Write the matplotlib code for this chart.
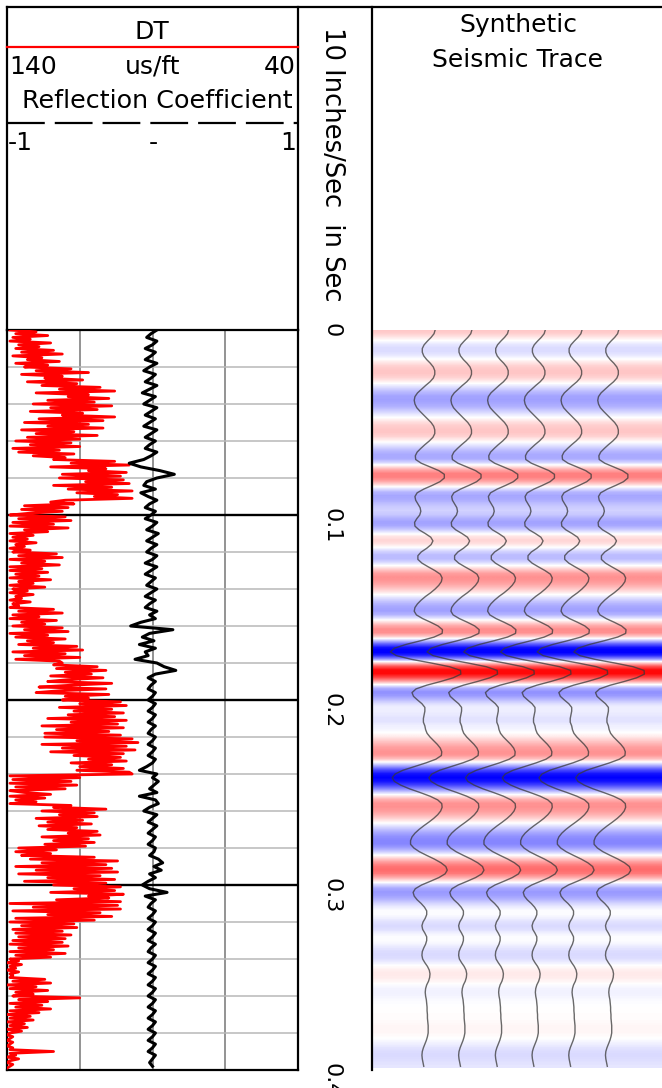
import numpy as np
import matplotlib
matplotlib.use("Agg")
import matplotlib.pyplot as plt
from matplotlib.lines import Line2D

W, H = 662, 1088

# two-way time in seconds
time_s = np.arange(200) * 0.002      # 2 ms samples (trace, reflection coef.)
time_dt = np.arange(400) * 0.001     # 1 ms samples (sonic)

# sonic log (us/ft), 10 samples per row = 10 ms
dt_us_ft = [
    139, 130, 137, 126, 138, 132, 139, 125, 136, 129,
    137, 124, 135, 121, 138, 128, 133, 122, 137, 126,
    134, 118, 130, 112, 135, 121, 127, 114, 133, 116,
    128, 108, 122, 103, 130, 112, 119, 105, 126, 110,
    131, 104, 125, 109, 132, 114, 121, 103, 129, 107,
    134, 112, 126, 107, 135, 117, 130, 109, 133, 115,
    137, 118, 132, 115, 138, 122, 136, 117, 131, 120,
    124, 103, 118, 98, 125, 106, 112, 99, 121, 101,
    122, 100, 113, 98, 124, 104, 119, 97, 116, 102,
    110, 97, 120, 125, 117, 134, 119, 135, 121, 132,
    139, 120, 136, 118, 138, 124, 139, 119, 134, 126,
    139, 131, 138, 133, 139, 130, 137, 134, 139, 132,
    138, 123, 136, 121, 139, 127, 135, 122, 139, 128,
    139, 126, 137, 129, 139, 125, 136, 131, 139, 127,
    138, 133, 139, 131, 137, 135, 139, 132, 138, 136,
    139, 124, 136, 121, 138, 129, 139, 123, 135, 127,
    138, 121, 134, 119, 139, 126, 137, 120, 133, 124,
    136, 116, 131, 114, 138, 120, 134, 115, 137, 122,
    121, 124, 109, 123, 106, 120, 111, 125, 107, 119,
    126, 104, 118, 129, 106, 122, 130, 105, 120, 112,
    121, 101, 115, 99, 122, 104, 117, 100, 119, 103,
    126, 99, 118, 102, 128, 100, 123, 105, 127, 101,
    127, 97, 116, 95, 128, 99, 121, 96, 125, 100,
    117, 101, 112, 99, 118, 104, 115, 100, 116, 98,
    97, 139, 115, 138, 118, 139, 116, 137, 120, 139,
    134, 125, 139, 127, 137, 130, 139, 118, 124, 106,
    128, 110, 122, 109, 130, 114, 126, 111, 129, 116,
    126, 109, 119, 108, 128, 112, 124, 110, 127, 113,
    136, 123, 137, 125, 135, 110, 132, 102, 128, 106,
    137, 104, 130, 102, 136, 108, 126, 103, 134, 106,
    124, 101, 117, 103, 125, 100, 112, 105, 123, 101,
    139, 102, 131, 101, 138, 108, 126, 104, 137, 110,
    139, 117, 135, 116, 138, 121, 137, 118, 136, 120,
    138, 121, 139, 119, 136, 124, 139, 120, 137, 125,
    139, 136, 140, 135, 139, 137, 140, 136, 139, 138,
    139, 127, 138, 125, 140, 130, 139, 126, 137, 131,
    138, 115, 136, 126, 139, 128, 137, 125, 139, 129,
    140, 132, 139, 131, 140, 134, 139, 133, 140, 135,
    139, 140, 138, 139, 140, 138, 139, 140, 138, 139,
    124, 139, 137, 140, 136, 139, 140, 138, 139, 140,
]

# reflection coefficient (black curve), 10 samples per row = 20 ms
refl_coef = [
    0.03, -0.01, -0.04, 0.03, 0.00, -0.05, 0.02, -0.01, -0.05, 0.03,
    -0.02, -0.06, 0.02, -0.01, -0.05, 0.03, -0.02, -0.07, 0.02, -0.02,
    -0.06, 0.03, -0.01, -0.05, 0.02, -0.02, -0.06, 0.03, -0.01, -0.05,
    0.02, -0.02, -0.05, 0.03, -0.01, -0.06, -0.16, -0.08, 0.05, 0.15,
    0.03, -0.04, -0.06, 0.02, -0.08, -0.03, 0.03, -0.02, -0.05, 0.02,
    -0.01, -0.05, 0.03, 0.00, -0.04, 0.04, 0.00, -0.04, 0.03, -0.01,
    -0.04, 0.03, 0.00, -0.05, 0.03, -0.01, -0.05, 0.02, -0.01, -0.04,
    0.03, -0.01, -0.05, 0.02, -0.02, -0.05, 0.03, -0.02, 0.02, -0.08,
    -0.15, 0.14, -0.02, -0.07, 0.01, -0.09, 0.02, -0.05, -0.03, -0.12,
    0.03, 0.08, 0.16, 0.02, -0.03, 0.02, -0.01, -0.03, 0.02, 0.00,
    -0.03, 0.02, 0.00, -0.03, 0.02, 0.00, -0.03, 0.02, -0.01, -0.03,
    0.02, 0.00, -0.03, 0.02, 0.00, -0.03, 0.02, 0.00, -0.04, -0.09,
    0.03, 0.00, 0.04, 0.01, -0.02, 0.03, -0.09, 0.02, 0.04, -0.02,
    -0.06, 0.03, 0.00, -0.03, 0.03, 0.00, -0.03, 0.02, 0.00, -0.03,
    0.02, 0.01, -0.02, 0.04, 0.07, 0.01, 0.06, -0.02, 0.02, -0.03,
    -0.07, -0.02, 0.10, -0.05, 0.02, -0.01, -0.03, 0.02, 0.00, -0.03,
    0.02, 0.00, -0.03, 0.02, 0.00, -0.03, 0.02, -0.01, -0.03, 0.02,
    0.00, -0.03, 0.02, 0.00, -0.03, 0.02, 0.00, -0.03, 0.02, 0.00,
    -0.03, 0.02, 0.00, -0.03, 0.02, 0.00, -0.03, 0.02, 0.00, -0.03,
    0.02, 0.00, -0.03, 0.02, 0.00, -0.03, 0.02, 0.00, -0.02, 0.00,
]

# synthetic seismic trace amplitude (normalised), 2 ms samples
synthetic = [
    0.22, 0.19, 0.11, 0.01, -0.08, -0.13, -0.13, -0.09, -0.01, 0.09,
    0.17, 0.21, 0.21, 0.17, 0.08, -0.04, -0.15, -0.26, -0.33, -0.35,
    -0.33, -0.28, -0.19, -0.09, 0.01, 0.11, 0.18, 0.21, 0.21, 0.16,
    0.06, -0.06, -0.17, -0.27, -0.32, -0.31, -0.16, 0.08, 0.32, 0.47,
    0.47, 0.35, 0.14, -0.09, -0.27, -0.33, -0.31, -0.25, -0.19, -0.17,
    -0.20, -0.28, -0.34, -0.33, -0.22, -0.05, 0.10, 0.16, 0.11, -0.01,
    -0.16, -0.25, -0.25, -0.14, 0.03, 0.21, 0.36, 0.41, 0.39, 0.32,
    0.22, 0.10, -0.04, -0.16, -0.26, -0.33, -0.35, -0.29, -0.12, 0.10,
    0.30, 0.42, 0.41, 0.19, -0.18, -0.58, -0.89, -1.00, -0.84, -0.43,
    0.11, 0.61, 0.91, 0.92, 0.71, 0.37, -0.01, -0.30, -0.41, -0.37,
    -0.26, -0.14, -0.06, -0.06, -0.08, -0.10, -0.10, -0.06, -0.04, 0.00,
    0.08, 0.18, 0.28, 0.36, 0.40, 0.39, 0.24, -0.03, -0.35, -0.66,
    -0.87, -0.95, -0.89, -0.72, -0.48, -0.19, 0.08, 0.29, 0.40, 0.41,
    0.37, 0.29, 0.18, 0.05, -0.09, -0.22, -0.33, -0.41, -0.45, -0.45,
    -0.36, -0.21, -0.01, 0.20, 0.38, 0.51, 0.55, 0.49, 0.32, 0.09,
    -0.15, -0.32, -0.38, -0.35, -0.27, -0.16, -0.07, -0.01, -0.01, -0.05,
    -0.11, -0.14, -0.12, -0.06, -0.01, -0.01, -0.04, -0.09, -0.13, -0.14,
    -0.12, -0.06, 0.01, 0.06, 0.08, 0.07, 0.04, -0.01, -0.04, -0.05,
    -0.04, -0.02, -0.01, 0.00, 0.00, 0.01, 0.01, 0.02, 0.03, 0.03,
    0.03, 0.01, -0.02, -0.06, -0.10, -0.13, -0.14, -0.13, -0.11, -0.09,
]

trace_pos = [1.5, 2.5, 3.5, 4.5, 5.5, 6.5]
time_ticks = [0, 0.1, 0.2, 0.3, 0.4]
time_labels = ["0", "0.1", "0.2", "0.3", "0.4"]


def rect(x0, y0, x1, y1):
    # pixel box (top-left origin) -> figure fraction
    return [x0 / W, 1 - y1 / H, (x1 - x0) / W, (y1 - y0) / H]


fig = plt.figure(figsize=(W / 100, H / 100), dpi=100)

# ---- log track -------------------------------------------------------
ax_log = fig.add_axes(rect(7, 330, 298, 1070))
ax_log.set_xlim(140, 40)
ax_log.set_ylim(0.4, 0)
ax_log.set_xticks([115, 90, 65])
ax_log.set_yticks([0.1, 0.2, 0.3])
ax_log.set_yticks([v for v in np.arange(0.02, 0.4, 0.02)
                   if abs(v * 10 - round(v * 10)) > 1e-6], minor=True)
ax_log.tick_params(which="both", length=0, labelleft=False, labelbottom=False)
ax_log.grid(axis="x", color="#8a8a8a", lw=1.3)
ax_log.grid(axis="y", which="major", color="black", lw=1.7)
ax_log.grid(axis="y", which="minor", color="#b8b8b8", lw=1.1)
ax_log.set_axisbelow(True)
for s in ax_log.spines.values():
    s.set_color("black")
    s.set_linewidth(1.6)
ax_log.plot(dt_us_ft, time_dt, color="#ff0000", lw=2.0, zorder=3)

ax_rc = fig.add_axes(rect(7, 330, 298, 1070), sharey=ax_log)
ax_rc.set_xlim(-1, 1)
ax_rc.patch.set_visible(False)
ax_rc.axis("off")
ax_rc.plot(refl_coef, time_s, color="black", lw=2.2)

# ---- time column -----------------------------------------------------
ax_mid = fig.add_axes(rect(298, 330, 372, 1070), sharey=ax_log)
ax_mid.set_xlim(0, 1)
ax_mid.axis("off")
for t, lab in zip(time_ticks, time_labels):
    ax_mid.text(0.45, t - 0.004, lab, rotation=270, ha="center", va="top",
                fontsize=16, clip_on=False)

# ---- synthetic seismic -----------------------------------------------
ax_seis = fig.add_axes(rect(372, 330, 662, 1070), sharey=ax_log)
ax_seis.set_xlim(0, 7.9)
ax_seis.axis("off")
img = np.array(synthetic).reshape(-1, 1)
ax_seis.imshow(img, cmap="bwr", vmin=-0.95, vmax=0.95, aspect="auto",
               interpolation="bilinear",
               extent=[0, 7.9, time_s[-1] + 0.001, time_s[0] - 0.001])
ax_seis.set_ylim(0.4, 0)
for p in trace_pos:
    ax_seis.plot(p + np.array(synthetic), time_s, color="#383838", lw=1.0, alpha=0.75)

# ---- frame and headers (pixel coordinates) ---------------------------
ax_fr = fig.add_axes([0, 0, 1, 1], zorder=10)
ax_fr.set_xlim(0, W)
ax_fr.set_ylim(H, 0)
ax_fr.patch.set_visible(False)
ax_fr.axis("off")

frame = [((7, 662), (7, 7)), ((7, 7), (7, 330)), ((298, 298), (7, 330)),
         ((372, 372), (7, 1070))]
for xs, ys in frame:
    ax_fr.add_line(Line2D(xs, ys, color="black", lw=1.6))
ax_fr.add_line(Line2D((7, 298), (47, 47), color="#ff0000", lw=1.6))
ax_fr.add_line(Line2D((7, 298), (123, 123), color="black", lw=1.6,
                      linestyle=(0, (17, 4.5))))

hs = 18
ax_fr.text(152, 32, "DT", ha="center", va="center", fontsize=hs)
ax_fr.text(9, 67, "140", ha="left", va="center", fontsize=hs)
ax_fr.text(153, 67, "us/ft", ha="center", va="center", fontsize=hs)
ax_fr.text(296, 67, "40", ha="right", va="center", fontsize=hs)
ax_fr.text(157, 101, "Reflection Coefficient", ha="center", va="center", fontsize=18.3)
ax_fr.text(8, 143, "-1", ha="left", va="center", fontsize=hs)
ax_fr.text(153, 143, "-", ha="center", va="center", fontsize=hs)
ax_fr.text(296, 143, "1", ha="right", va="center", fontsize=hs)

ax_fr.text(518, 25, "Synthetic", ha="center", va="center", fontsize=hs)
ax_fr.text(518, 60, "Seismic Trace", ha="center", va="center", fontsize=hs)

ax_fr.text(332, 27, "10 Inches/Sec  in Sec", rotation=270, ha="center", va="top",
           fontsize=18.5)

fig.savefig("out.png", dpi=100)
